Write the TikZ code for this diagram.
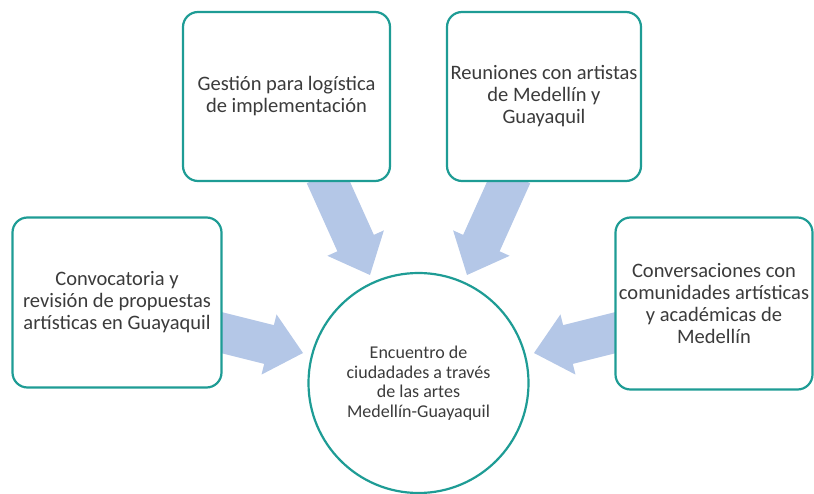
\documentclass[tikz,border=0pt]{standalone}
\usepackage{fontspec}
\setmainfont{Carlito}
\usetikzlibrary{calc}
\definecolor{teal1}{HTML}{1E9C95}
\definecolor{arrowblue}{HTML}{B4C7E7}
\definecolor{txt}{HTML}{3B3B3B}
\tikzset{
  box/.style={draw=teal1, line width=2.2pt, rounded corners=15pt, fill=white,
    align=center, text=txt, font=\fontsize{20.5}{22}\selectfont, inner sep=0pt},
  hub/.style={circle, draw=teal1, line width=2.2pt, fill=white, align=center,
    text=txt, font=\fontsize{18}{19.5}\selectfont, inner sep=0pt},
  blockarrow/.style={fill=arrowblue, draw=none}
}
% #1 start, #2 tip, #3 body half width, #4 head half width, #5 head length
\newcommand{\blockarr}[5]{%
  \coordinate (hb) at ($(#2)!#5!(#1)$);
  \fill[blockarrow]
    ($(#1)!#3!-90:(#2)$) -- ($(hb)!#3!90:(#1)$) -- ($(hb)!#4!90:(#1)$) --
    (#2) -- ($(hb)!#4!-90:(#1)$) -- ($(hb)!#3!-90:(#1)$) -- ($(#1)!#3!90:(#2)$) -- cycle;
}
\begin{document}
\begin{tikzpicture}[x=1pt,y=-1pt]
\useasboundingbox (0,0) rectangle (814,494);
% arrow anchors
\coordinate (s1) at (325,175);  \coordinate (t1) at (370,275);
\coordinate (s2) at (512,175);  \coordinate (t2) at (467,275);
\coordinate (s3) at (215,331);  \coordinate (t3) at (303,353);
\coordinate (s4) at (622,331);  \coordinate (t4) at (534,353);
\blockarr{s1}{t1}{20pt}{31pt}{35pt}
\blockarr{s2}{t2}{20pt}{31pt}{35pt}
\blockarr{s3}{t3}{20pt}{31pt}{35pt}
\blockarr{s4}{t4}{20pt}{31pt}{35pt}
% boxes
\node[box, minimum width=207pt, minimum height=169pt] (gest) at (286.5,96.5)
  {Gestión para logística\\de implementación};
\node[box, minimum width=194pt, minimum height=169pt] (reun) at (544,96.5)
  {Reuniones con artistas\\de Medellín y\\Guayaquil};
\node[box, minimum width=209pt, minimum height=170pt] (conv) at (117,302.5)
  {Convocatoria y\\revisión de propuestas\\artísticas en Guayaquil};
\node[box, minimum width=197pt, minimum height=172pt] (conver) at (714,303.5)
  {Conversaciones con\\comunidades artísticas\\y académicas de\\Medellín};
\node[hub, minimum size=220pt] (hub) at (418.5,383)
  {Encuentro de\\ciudadades a través\\de las artes\\Medellín-Guayaquil};
\end{tikzpicture}
\end{document}
